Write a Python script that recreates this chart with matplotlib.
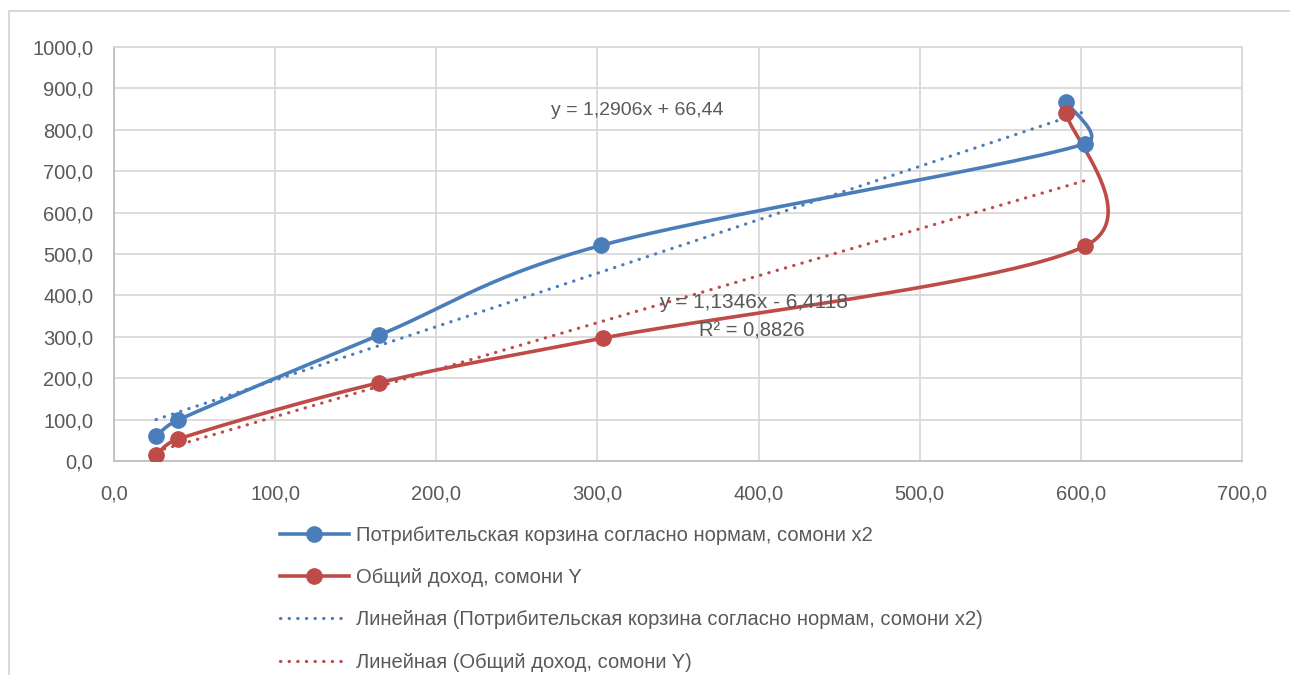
import numpy as np
import matplotlib
matplotlib.use("Agg")
from matplotlib import pyplot as plt
from matplotlib.lines import Line2D
from matplotlib.ticker import FuncFormatter, MultipleLocator

plt.rcParams["font.family"] = ["Liberation Sans", "DejaVu Sans"]

# data (order follows the drawn line)
basket_x = [26.1, 39.7, 164.5, 302.5, 602.5, 591.0]
basket_y = [61.0, 99.0, 304.0, 521.0, 766.0, 867.0]
income_x = [26.1, 39.7, 164.5, 303.5, 602.5, 591.0]
income_y = [15.0, 53.0, 189.0, 297.0, 519.0, 840.0]

basket_fit = (1.2906, 66.44)
income_fit = (1.1346, -6.4118)
trend_x = [26.1, 602.5]

labels = [
    "Потрибительская корзина согласно нормам, сомони x2",
    "Общий доход, сомони Y",
    "Линейная (Потрибительская корзина согласно нормам, сомони x2)",
    "Линейная (Общий доход, сомони Y)",
]

BLUE = "#4a7ebb"
RED = "#be4b48"
TEXT = "#595959"
GRID = "#d9d9d9"
DOTS = (0, (0.1, 2.6))


def _ctrl(base, vec, seg_len):
    # tangent handle, shortened when the next segment is short (Excel does similar)
    n = np.hypot(*vec)
    if n == 0:
        return base
    length = min(n / 6, 0.5 * seg_len)
    return base + vec / n * length


def smooth(ax, xs, ys, n=50):
    """Excel-like smoothed line: Bezier through points, built in screen space."""
    pts = ax.transData.transform(np.column_stack([xs, ys]))
    p = np.vstack([pts[0], pts, pts[-1]])
    out = []
    t = np.linspace(0, 1, n)[:, None]
    for i in range(1, len(p) - 2):
        p0, p1, p2, p3 = p[i - 1], p[i], p[i + 1], p[i + 2]
        seg_len = np.hypot(*(p2 - p1))
        c1 = _ctrl(p1, p2 - p0, seg_len)
        c2 = _ctrl(p2, -(p3 - p1), seg_len)
        seg = ((1 - t) ** 3) * p1 + 3 * ((1 - t) ** 2) * t * c1 + 3 * (1 - t) * t ** 2 * c2 + t ** 3 * p2
        out.append(seg)
    curve = ax.transData.inverted().transform(np.vstack(out))
    return curve[:, 0], curve[:, 1]


fig = plt.figure(figsize=(12.9, 6.75), dpi=100)
ax = fig.add_axes([114 / 1290, 1 - 461 / 675, 1128 / 1290, 414 / 675])
ax.set_xlim(0, 700)
ax.set_ylim(0, 1000)

# chart-area frame (only left and top edges are visible in the crop)
fig.add_artist(Line2D([8.5 / 1290, 8.5 / 1290, 1.0], [0.0, 1 - 10.5 / 675, 1 - 10.5 / 675],
                      transform=fig.transFigure, color="#d9d9d9", lw=1.5))

fmt = FuncFormatter(lambda v, _: f"{v:.1f}".replace(".", ","))
ax.xaxis.set_major_locator(MultipleLocator(100))
ax.yaxis.set_major_locator(MultipleLocator(100))
ax.xaxis.set_major_formatter(fmt)
ax.yaxis.set_major_formatter(fmt)
ax.tick_params(length=0, labelsize=14.5, colors=TEXT)
ax.tick_params(axis="x", pad=17)
ax.tick_params(axis="y", pad=15)
ax.grid(True, color=GRID, linewidth=1.3)
ax.set_axisbelow(True)
for side, spine in ax.spines.items():
    spine.set_color("#bfbfbf" if side in ("left", "bottom") else GRID)
    spine.set_linewidth(1.3)

# trend lines
tx = np.array(trend_x)
ax.plot(tx, basket_fit[0] * tx + basket_fit[1], color=BLUE, lw=2.3,
        linestyle=DOTS, dash_capstyle="round", zorder=2)
ax.plot(tx, income_fit[0] * tx + income_fit[1], color=RED, lw=2.3,
        linestyle=DOTS, dash_capstyle="round", zorder=2)

# smoothed series
for xs, ys, c in ((basket_x, basket_y, BLUE), (income_x, income_y, RED)):
    cx, cy = smooth(ax, xs, ys)
    ax.plot(cx, cy, color=c, lw=2.6, solid_capstyle="round", zorder=3)
    ax.plot(xs, ys, "o", color=c, markersize=11, zorder=4)

ax.text(325, 847, "y = 1,2906x + 66,44", fontsize=14, color=TEXT, ha="center", va="center")
ax.text(397, 383, "y = 1,1346x - 6,4118", fontsize=15, color=TEXT, ha="center", va="center")
ax.text(396, 315, "R² = 0,8826", fontsize=14.5, color=TEXT, ha="center", va="center")

handles = [
    Line2D([], [], color=BLUE, lw=2.6, marker="o", markersize=11),
    Line2D([], [], color=RED, lw=2.6, marker="o", markersize=11),
    Line2D([], [], color=BLUE, lw=2.3, linestyle=DOTS, dash_capstyle="round"),
    Line2D([], [], color=RED, lw=2.3, linestyle=DOTS, dash_capstyle="round"),
]
fig.legend(handles, labels, loc="upper left", bbox_to_anchor=(264 / 1290, 1 - 510 / 675),
           frameon=False, fontsize=14.5, labelcolor=TEXT, handlelength=3.4,
           handletextpad=0.35, labelspacing=1.15, borderpad=0.3)

fig.savefig("out.png", dpi=100)
plt.close(fig)
